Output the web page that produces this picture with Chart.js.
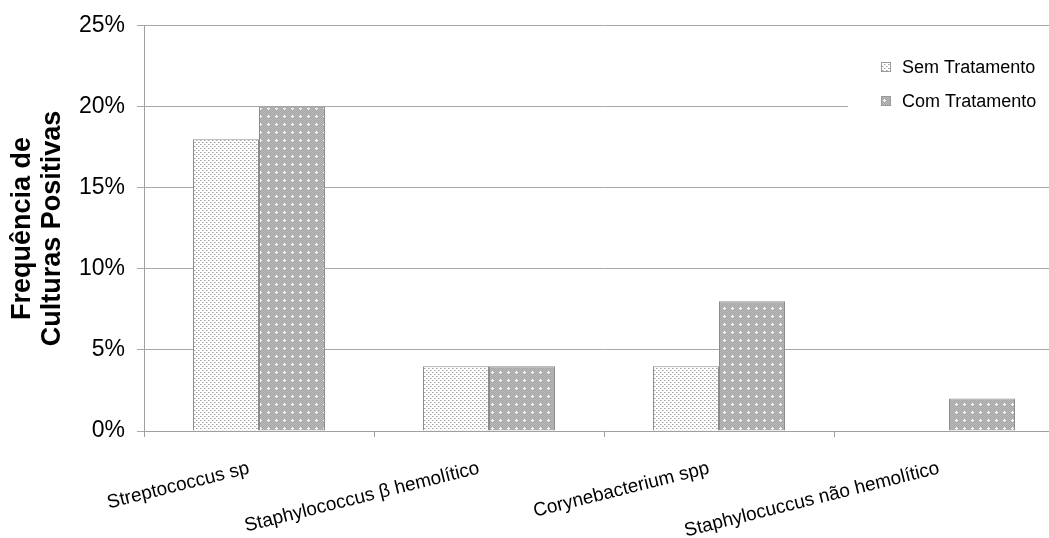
<!DOCTYPE html>
<html>
<head>
<meta charset="utf-8">
<script src="https://cdn.jsdelivr.net/npm/chart.js@4.4.0/dist/chart.umd.min.js"></script>
<style>
  html, body { margin: 0; padding: 0; background: #fff; overflow: hidden; }
  #wrap { width: 1080px; height: 538px; position: relative; }
</style>
</head>
<body>
<div id="wrap"><canvas id="c" width="1080" height="538"></canvas></div>
<script>
// Culture positivity by organism, before and after treatment (in %)
const categories = [
  'Streptococcus sp',
  'Staphylococcus β hemolítico',
  'Corynebacterium spp',
  'Staphylocuccus não hemolítico'
];
const seriesLabels = ['Sem Tratamento', 'Com Tratamento'];
const semTratamento = [18, 4, 4, 0];
const comTratamento = [20, 4, 8, 2];
const yTicks = [0, 5, 10, 15, 20, 25];
const yTitle = ['Frequência de', 'Culturas Positivas'];

const FONT = '"Liberation Sans", Arial, sans-serif';

// Fine dotted fill (light)
function dottedPattern() {
  const t = document.createElement('canvas');
  t.width = 4; t.height = 4;
  const g = t.getContext('2d');
  g.fillStyle = '#ffffff';
  g.fillRect(0, 0, 4, 4);
  g.fillStyle = '#a0a0a0';
  g.fillRect(0, 0, 1, 1);
  g.fillRect(2, 2, 1, 1);
  g.fillStyle = '#d0d0d0';
  g.fillRect(1, 0, 1, 1);
  g.fillRect(3, 2, 1, 1);
  return g.createPattern(t, 'repeat');
}

// Grey checker fill with small white crosses (dark)
function crossPattern() {
  const t = document.createElement('canvas');
  t.width = 8; t.height = 8;
  const g = t.getContext('2d');
  g.fillStyle = '#a4a4a4';
  g.fillRect(0, 0, 8, 8);
  g.fillStyle = '#bcbcbc';
  for (let y = 0; y < 8; y++) {
    for (let x = 0; x < 8; x++) {
      if ((x + y) % 2 === 0) g.fillRect(x, y, 1, 1);
    }
  }
  g.fillStyle = '#f4f4f4';
  g.fillRect(3, 4, 3, 1);
  g.fillRect(4, 3, 1, 3);
  return g.createPattern(t, 'repeat');
}

const ctx = document.getElementById('c').getContext('2d');
const fills = [dottedPattern(), crossPattern()];

// Legend drawn on a white panel in the upper right of the plot
const legendPanel = {
  id: 'legendPanel',
  afterDatasetsDraw(chart) {
    const c = chart.ctx;
    c.save();
    c.fillStyle = '#ffffff';
    c.fillRect(848, 44, 240, 82);
    chart.data.datasets.forEach((ds, i) => {
      const y = 67 + i * 34;
      c.fillStyle = ds.backgroundColor;
      c.fillRect(882, y - 4, 8, 8);
      c.strokeStyle = '#9a9a9a';
      c.lineWidth = 1;
      c.strokeRect(881.5, y - 4.5, 9, 9);
      c.fillStyle = '#000000';
      c.font = '18px ' + FONT;
      c.textBaseline = 'middle';
      c.textAlign = 'left';
      c.fillText(ds.label, 902, y + 1);
    });
    c.restore();
  }
};

new Chart(ctx, {
  type: 'bar',
  data: {
    labels: categories,
    datasets: [
      {
        label: seriesLabels[0],
        data: semTratamento,
        backgroundColor: fills[0],
        borderColor: '#8c8c8c',
        borderWidth: 1,
        categoryPercentage: 0.574,
        barPercentage: 1.0
      },
      {
        label: seriesLabels[1],
        data: comTratamento,
        backgroundColor: fills[1],
        borderColor: '#8c8c8c',
        borderWidth: 1,
        categoryPercentage: 0.574,
        barPercentage: 1.0
      }
    ]
  },
  options: {
    responsive: false,
    animation: false,
    devicePixelRatio: 1,
    layout: { padding: { top: 24, right: 16, bottom: 0, left: 0 } },
    plugins: {
      legend: { display: false },
      tooltip: { enabled: false }
    },
    scales: {
      x: {
        grid: {
          display: true,
          offset: true,
          drawOnChartArea: false,
          drawTicks: true,
          tickLength: 6,
          color: '#a0a0a0'
        },
        border: { display: true, color: '#a0a0a0', width: 1 },
        ticks: {
          minRotation: 14,
          maxRotation: 14,
          autoSkip: false,
          labelOffset: -10,
          padding: 20,
          color: '#000000',
          font: { family: FONT, size: 19 }
        },
        afterFit(scale) { scale.height = 107; }
      },
      y: {
        min: 0,
        max: 25,
        afterBuildTicks(scale) { scale.ticks = yTicks.map(v => ({ value: v })); },
        grid: {
          color: '#a8a8a8',
          drawTicks: true,
          tickLength: 7
        },
        border: { display: true, color: '#a0a0a0', width: 1 },
        ticks: {
          padding: 12,
          color: '#000000',
          font: { family: FONT, size: 23 },
          callback: v => v + '%'
        },
        title: {
          display: true,
          text: yTitle,
          color: '#000000',
          font: { family: FONT, size: 27, weight: 'bold', lineHeight: 1.11 },
          padding: { top: 8, bottom: 0 }
        },
        afterFit(scale) { scale.width = 144; }
      }
    }
  },
  plugins: [legendPanel]
});
</script>
</body>
</html>
